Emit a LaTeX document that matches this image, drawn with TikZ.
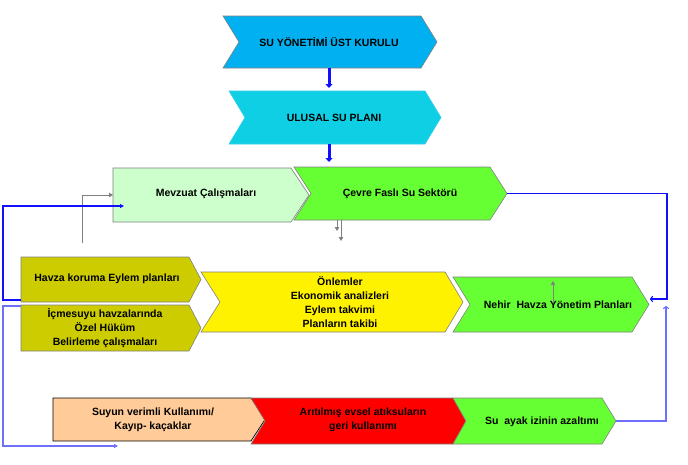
\documentclass[tikz,border=0pt]{standalone}
\usepackage{fontspec}
\setmainfont{Liberation Sans}
\usetikzlibrary{arrows.meta,calc}
\definecolor{cOne}{HTML}{00B0F0}
\definecolor{cTwo}{HTML}{0FCFE5}
\definecolor{cTwoEdge}{HTML}{33CCEE}
\definecolor{cMev}{HTML}{CCFFCC}
\definecolor{cGreen}{HTML}{66FF33}
\definecolor{cOlive}{HTML}{CCCC00}
\definecolor{cPeach}{HTML}{FFCC99}
\definecolor{cEdge}{HTML}{808080}
\definecolor{cBlue}{HTML}{1010FF}
\definecolor{cBlueL}{HTML}{6E6EFF}
\newcommand\mkchev[8]{%
  \path[#2] (#3,#5) -- (#4,#5) -- ({#4+#8},{(#5+#6)/2}) -- (#4,#6) -- (#3,#6) -- ({#3+#7},{(#5+#6)/2}) -- cycle;
  \node[inner sep=0pt, outer sep=0pt, minimum width={(#4-#3)*1pt}, minimum height={(#6-#5)*1pt}, anchor=north west] (#1) at (#3,#5) {};
  \coordinate (#1-tip) at ({#4+#8},{(#5+#6)/2});
}
\tikzset{
  txt/.style={font={\fontsize{10.5}{14}\selectfont\bfseries}, align=center, inner sep=0pt},
  bigarrow/.style={color=cBlue, line width=3pt, -{Triangle[length=4pt,width=7pt]}},
  grayarrow/.style={color=cEdge, line width=0.8pt, -{Triangle[length=4pt,width=4.5pt]}},
  bluefill/.style={line width=1.1pt, -{Triangle[length=4pt,width=4pt]}},
  blueopen/.style={line width=1.1pt, -{To[length=3pt,width=6pt]}},
}
\begin{document}
\begin{tikzpicture}[x=1pt,y=-1pt]
\useasboundingbox (0,0) rectangle (688,464);
% boxes
\mkchev{c1}{fill=cOne,draw=cEdge,line width=0.6pt}{223}{421}{16}{68}{16}{16}
\mkchev{c2}{fill=cTwo,draw=cTwoEdge,line width=0.6pt}{229}{425}{91}{144}{16}{16}
\mkchev{mev}{fill=cMev,draw=cEdge,line width=0.6pt}{113}{291}{168}{222}{0}{18}
\mkchev{cev}{fill=cGreen,draw=cEdge,line width=0.6pt}{294}{490}{167}{220}{17}{17}
\mkchev{hav}{fill=cOlive,draw=cEdge,line width=0.6pt}{21}{189}{257}{302}{0}{12}
\mkchev{icm}{fill=cOlive,draw=cEdge,line width=0.6pt}{21}{189}{305}{351}{0}{12}
\mkchev{yel}{fill=yellow,draw=cEdge,line width=0.6pt}{201}{445}{272}{332}{19}{18}
\mkchev{neh}{fill=cGreen,draw=cEdge,line width=0.6pt}{453}{632}{277}{332}{17}{17}
\mkchev{suy}{fill=cPeach,draw=black,line width=0.7pt}{53}{251}{398}{441}{0}{14}
\mkchev{red}{fill=red,draw=cEdge,line width=0.6pt}{251}{453}{398}{444}{14}{13}
\mkchev{say}{fill=cGreen,draw=cEdge,line width=0.6pt}{453}{602}{398}{444}{13}{14}
% texts
\node[txt] (c1t) at (329,42) {SU YÖNETİMİ ÜST KURULU};
\node[txt] (c2t) at (334,118) {ULUSAL SU PLANI};
\node[txt] (mevt) at (206,194) {Mevzuat Çalışmaları};
\node[txt] (cevt) at (400,194) {Çevre Faslı Su Sektörü};
\node[txt] (havt) at (107,279) {Havza koruma Eylem planları};
\node[txt] (icmt) at (105,328) {İçmesuyu havzalarında\\Özel Hüküm\\Belirleme çalışmaları};
\node[txt] (yelt) at (340,302) {Önlemler\\Ekonomik analizleri\\Eylem takvimi\\Planların takibi};
\node[txt] (neht) at (558,305) {Nehir\ \ Havza Yönetim Planları};
\node[txt] (suyt) at (153,420) {Suyun verimli Kullanımı/\\Kayıp- kaçaklar};
\node[txt] (redt) at (363,420) {Arıtılmış evsel atıksuların\\geri kullanımı};
\node[txt] (sayt) at (542,422) {Su\ \ ayak izinin azaltımı};
% coordinates for free ends and rails
\coordinate (lrail) at (3,0);
\coordinate (rrail) at (667,0);
\coordinate (mevin) at (124,206);
\coordinate (suyin) at (118,446);
\coordinate (nehin) at (650,299);
\coordinate (nehup) at (666,306);
\coordinate (gsrc) at (82,243);
\coordinate (gd1) at (337,231);
\coordinate (gd2) at (341,241);
\coordinate (gin1) at (553,303);
\coordinate (gin2) at (553,281);
% thick blue arrows
\draw[bigarrow, shorten >=3pt] (c1t |- c1.south) -- (c1t |- c2.north);
\draw[bigarrow, shorten >=5pt] (c1t |- c2.south) -- (c1t |- cev.north);
% gray arrows
\draw[grayarrow] (gd1 |- cev.south) -- (gd1);
\draw[grayarrow] (gd2 |- cev.south) -- (gd2);
\draw[grayarrow] (gsrc) |- (mev.west);
\draw[grayarrow, line width=0.6pt] (gin1) -- (gin2);
% blue connectors
\draw[bluefill, color=cBlue] ([yshift=2pt]hav.south west) -- ([yshift=2pt]lrail |- hav.south) |- (mevin);
\draw[bluefill, color=cBlueL] ([yshift=-1pt]icm.north west) -- ([yshift=-1pt]lrail |- icm.north) |- (suyin);
\draw[blueopen, color=cBlue] (cev-tip) -| (rrail |- nehin) -- (nehin);
\draw[blueopen, color=cBlueL] (say-tip) -| (nehup);
\end{tikzpicture}
\end{document}
